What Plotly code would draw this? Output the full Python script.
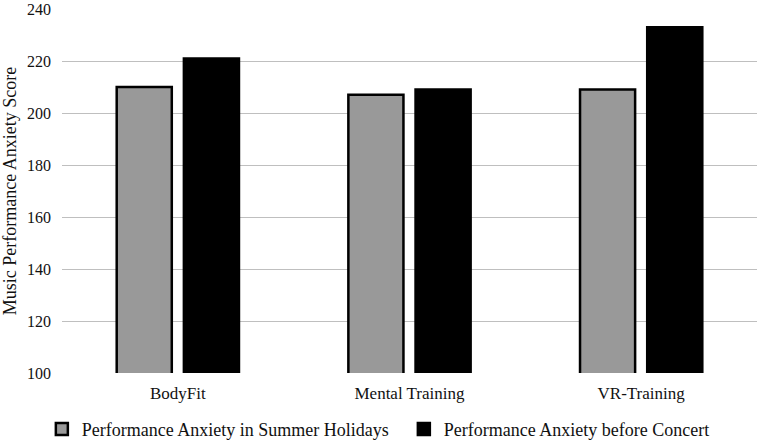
import plotly.graph_objects as go

categories = ["BodyFit", "Mental Training", "VR-Training"]
summer = [210, 207, 209]
concert = [221, 209, 233]
series_names = ["Performance Anxiety in Summer Holidays", "Performance Anxiety before Concert"]
y_ticks = [100, 120, 140, 160, 180, 200, 220, 240]

font = "Liberation Serif, Times New Roman, serif"

fig = go.Figure()
fig.add_trace(go.Bar(x=categories, y=summer, name=series_names[0],
                     marker=dict(color="#999999", line=dict(color="#000000", width=2.5))))
fig.add_trace(go.Bar(x=categories, y=concert, name=series_names[1],
                     marker=dict(color="#000000", line=dict(color="#000000", width=2.5))))

fig.update_layout(
    width=767, height=442,
    margin=dict(l=62, r=10, t=9, b=69, autoexpand=False),
    paper_bgcolor="white", plot_bgcolor="white",
    barmode="group", bargap=0.42, bargroupgap=0.18,
    font=dict(family=font, size=16, color="#111111"),
    showlegend=True,
    legend=dict(orientation="h", x=-0.029, xanchor="left", y=-0.104, yanchor="top",
                font=dict(size=18), itemwidth=30, tracegroupgap=0,
                entrywidth=317, entrywidthmode="pixels"),
    xaxis=dict(showgrid=False, showline=False, ticks="", tickfont=dict(size=17),
               ticklabelstandoff=8),
    yaxis=dict(range=[100, 240], tickvals=y_ticks, showgrid=True, gridcolor="#bfbfbf",
               gridwidth=1, zeroline=False, showline=False, ticks="",
               tickfont=dict(size=16), ticklabelstandoff=10,
               title=dict(text="Music Performance Anxiety Score", font=dict(size=18), standoff=8)),
)

fig.write_html("out.html")
